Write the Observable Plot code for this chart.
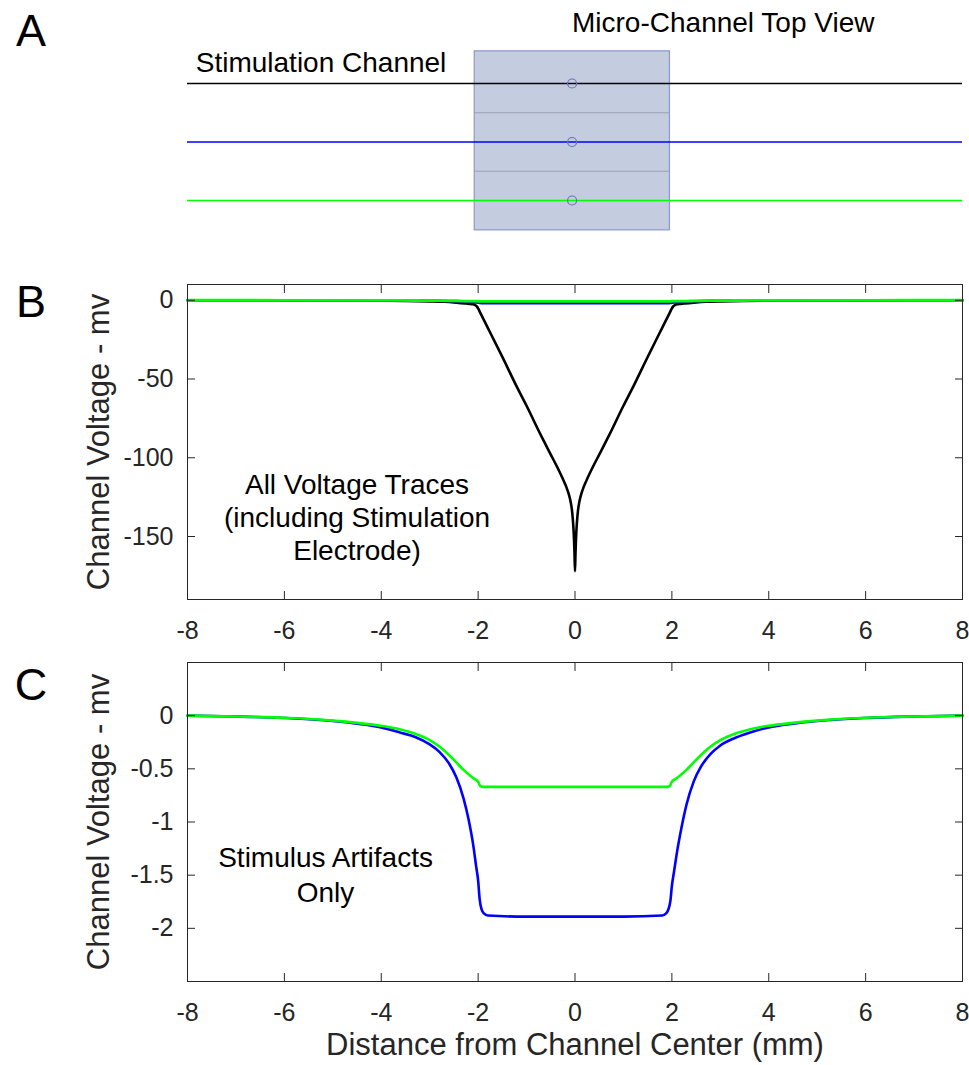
<!DOCTYPE html>
<html>
<head>
<meta charset="utf-8">
<script src="https://cdn.jsdelivr.net/npm/d3@7"></script>
<script src="https://cdn.jsdelivr.net/npm/@observablehq/plot@0.6"></script>
<style>
  html, body { margin: 0; padding: 0; background: white; overflow: hidden; }
  #chart svg { display: block; }
</style>
</head>
<body>
<div id="chart"></div>
<script>
// ---------- data ----------
const xTicks = [-8, -6, -4, -2, 0, 2, 4, 6, 8];
const yTicksB = [0, -50, -100, -150];
const yTicksC = [0, -0.5, -1, -1.5, -2];

// Stimulation channel (black) – panel B
const distBlack = [-8,-7,-6,-5,-4,-3.5,-3,-2.7,-2.5,-2.35,-2.25,-2.15,-2.1,-2.05,-2.02,-2,-1.95,-1.8,-1.5,-1.2,-1,-0.7,-0.5,-0.35,-0.25,-0.18,-0.13,-0.09,-0.06,-0.04,-0.02,-0.01,0,
  0.01,0.02,0.04,0.06,0.09,0.13,0.18,0.25,0.35,0.5,0.7,1,1.2,1.5,1.8,1.95,2,2.02,2.05,2.1,2.15,2.25,2.35,2.5,2.7,3,3.5,4,5,6,7,8];
const voltBlack = [0,-0.02,-0.05,-0.1,-0.25,-0.4,-0.7,-1.0,-1.4,-1.8,-2.1,-2.4,-2.6,-3.3,-4.2,-5.2,-8.3,-17.5,-36,-55,-67,-86,-98,-107,-113.5,-118.5,-123,-128,-134,-141,-152,-161,-172,
  -161,-152,-141,-134,-128,-123,-118.5,-113.5,-107,-98,-86,-67,-55,-36,-17.5,-8.3,-5.2,-4.2,-3.3,-2.6,-2.4,-2.1,-1.8,-1.4,-1.0,-0.7,-0.4,-0.25,-0.1,-0.05,-0.02,0];

// Adjacent channel (blue)
const distBlue = [-8,-7,-6,-5,-4.5,-4,-3.6,-3.3,-3,-2.8,-2.6,-2.45,-2.3,-2.2,-2.1,-2.04,-2,-1.97,-1.93,-1.88,-1.8,-1,0,1,
  1.8,1.88,1.93,1.97,2,2.04,2.1,2.2,2.3,2.45,2.6,2.8,3,3.3,3.6,4,4.5,5,6,7,8];
const voltBlue = [0,-0.008,-0.022,-0.05,-0.075,-0.11,-0.16,-0.2,-0.27,-0.34,-0.45,-0.58,-0.78,-0.97,-1.22,-1.42,-1.55,-1.72,-1.82,-1.86,-1.88,-1.89,-1.89,-1.89,
  -1.88,-1.86,-1.82,-1.74,-1.6,-1.48,-1.3,-1.05,-0.84,-0.62,-0.48,-0.36,-0.28,-0.21,-0.16,-0.11,-0.075,-0.05,-0.022,-0.008,0];

// Far channel (green)
const distGreen = [-8,-7,-6,-5,-4.5,-4,-3.6,-3.3,-3,-2.8,-2.6,-2.45,-2.3,-2.15,-2.06,-2.02,-1.99,-1.96,-1.9,0,
  1.9,1.96,1.99,2.02,2.06,2.15,2.3,2.45,2.6,2.8,3,3.3,3.6,4,4.5,5,6,7,8];
const voltGreen = [0,-0.008,-0.02,-0.047,-0.068,-0.095,-0.13,-0.17,-0.23,-0.29,-0.37,-0.44,-0.51,-0.57,-0.6,-0.61,-0.63,-0.66,-0.67,-0.67,
  -0.67,-0.66,-0.63,-0.61,-0.6,-0.57,-0.51,-0.44,-0.37,-0.29,-0.23,-0.17,-0.13,-0.095,-0.068,-0.047,-0.02,-0.008,0];

// Panel A (top view) geometry
const channelNames = ["Stimulation", "Adjacent", "Far"];
const channelPos = [1, 0, -1];
const channelColors = ["#000000", "#0000ff", "#00ff00"];
const channelDividers = [0.5, -0.5];
const electrodeX = -0.06;
const blockX = [-2.07, 1.96];
const blockY = [-1.51, 1.55];

// Text
const titleA = "Micro-Channel Top View";
const stimLabel = "Stimulation Channel";
const noteB = "All Voltage Traces\n(including Stimulation\nElectrode)";
const noteC = "Stimulus Artifacts\nOnly";
const yLabel = "Channel Voltage - mv";
const xLabel = "Distance from Channel Center (mm)";

// ---------- build ----------
const rows = (xs, vs) => xs.map((d, i) => ({d, v: vs[i]}));
const black = rows(distBlack, voltBlack);
const blue = rows(distBlue, voltBlue);
const green = rows(distGreen, voltGreen);

const FONT = "'Liberation Sans', Arial, Helvetica, sans-serif";
const AX = "#262626";
const W = 969, ML = 187, MR = 7;
const svgStyle = {background: "white", color: AX, fontFamily: FONT, fontSize: "25px", overflow: "visible"};

function frameAxes(yTicks) {
  return [
    Plot.frame({stroke: AX, strokeWidth: 1}),
    Plot.axisX(xTicks, {anchor: "bottom", tickSize: -8, tickPadding: 30, tickFormat: d => String(d), label: null, fontSize: 25}),
    Plot.axisX(xTicks, {anchor: "top", tickSize: -8, tickFormat: () => "", label: null}),
    Plot.axisY(yTicks, {anchor: "left", tickSize: -8, tickPadding: 22, tickFormat: d => String(d), label: null, fontSize: 25}),
    Plot.axisY(yTicks, {anchor: "right", tickSize: -8, tickFormat: () => "", label: null})
  ];
}
function yAxisLabel() {
  return Plot.text([yLabel], {text: d => d, frameAnchor: "left", rotate: -90, dx: -88,
    fontSize: 31, fill: AX, textAnchor: "middle", lineAnchor: "middle"});
}
function letter(s, yv) {
  return Plot.text([s], {text: d => d, x: () => -11.23, y: () => yv, fontSize: 45, fill: "black",
    textAnchor: "middle", lineAnchor: "middle"});
}

// Panel A
const chA = Plot.plot({
  width: W, height: 245,
  marginLeft: ML, marginRight: MR, marginTop: 0, marginBottom: 0,
  style: svgStyle,
  x: {domain: [-8, 8], axis: null},
  y: {domain: [-1.769, 2.419], axis: null},
  marks: [
    Plot.rect([0], {x1: () => blockX[0], x2: () => blockX[1], y1: () => blockY[0], y2: () => blockY[1],
      fill: "#c4cce0", stroke: "#8a99c9", strokeWidth: 1.2}),
    Plot.ruleY(channelDividers, {x1: () => blockX[0], x2: () => blockX[1], stroke: "#9ba0b0", strokeWidth: 1.2}),
    Plot.ruleY(channelPos, {x1: -8, x2: 8, stroke: (d, i) => channelColors[i], strokeWidth: 1.6}),
    Plot.dot(channelPos, {x: () => electrodeX, y: d => d, r: 4.5, stroke: "#6574b5", fill: "none", strokeWidth: 1.2}),
    Plot.text([stimLabel], {text: d => d, x: () => -7.83, y: () => 1.35, textAnchor: "start", lineAnchor: "middle", fontSize: 28, fill: "black"}),
    Plot.text([titleA], {text: d => d, x: () => 3.06, y: () => 2.03, textAnchor: "middle", lineAnchor: "middle", fontSize: 28, fill: "black"}),
    letter("A", 1.89)
  ]
});

// Panel B
const chB = Plot.plot({
  width: W, height: 400,
  marginLeft: ML, marginRight: MR, marginTop: 39, marginBottom: 46,
  style: svgStyle,
  x: {domain: [-8, 8]},
  y: {domain: [-190, 10]},
  marks: [
    Plot.line(black, {x: "d", y: "v", stroke: "#000000", strokeWidth: 2.6, curve: "monotone-x"}),
    Plot.line(blue, {x: "d", y: "v", stroke: "#0000ff", strokeWidth: 2.6, curve: "monotone-x"}),
    Plot.line(green, {x: "d", y: "v", stroke: "#00ff00", strokeWidth: 2.8, curve: "monotone-x"}),
    ...frameAxes(yTicksB),
    yAxisLabel(),
    Plot.text([noteB], {text: d => d, x: () => -4.5, y: () => -137.5, textAnchor: "middle", lineAnchor: "middle",
      lineHeight: 1.18, fontSize: 28, fill: "black"}),
    letter("B", -1.4)
  ]
});

// Panel C
const chC = Plot.plot({
  width: W, height: 420,
  marginLeft: ML, marginRight: MR, marginTop: 17, marginBottom: 84,
  style: svgStyle,
  x: {domain: [-8, 8]},
  y: {domain: [-2.5, 0.5]},
  marks: [
    Plot.line(blue, {x: "d", y: "v", stroke: "#0000ff", strokeWidth: 2.6, curve: "monotone-x"}),
    Plot.line(green, {x: "d", y: "v", stroke: "#00ff00", strokeWidth: 2.6, curve: "monotone-x"}),
    ...frameAxes(yTicksC),
    yAxisLabel(),
    Plot.text([xLabel], {text: d => d, frameAnchor: "bottom", dy: 64, fontSize: 31, fill: AX,
      textAnchor: "middle", lineAnchor: "middle"}),
    Plot.text([noteC], {text: d => d, x: () => -5.15, y: () => -1.48, textAnchor: "middle", lineAnchor: "middle",
      lineHeight: 1.25, fontSize: 28, fill: "black"}),
    letter("C", 0.284)
  ]
});

const root = document.getElementById("chart");
root.append(chA, chB, chC);
</script>
</body>
</html>
